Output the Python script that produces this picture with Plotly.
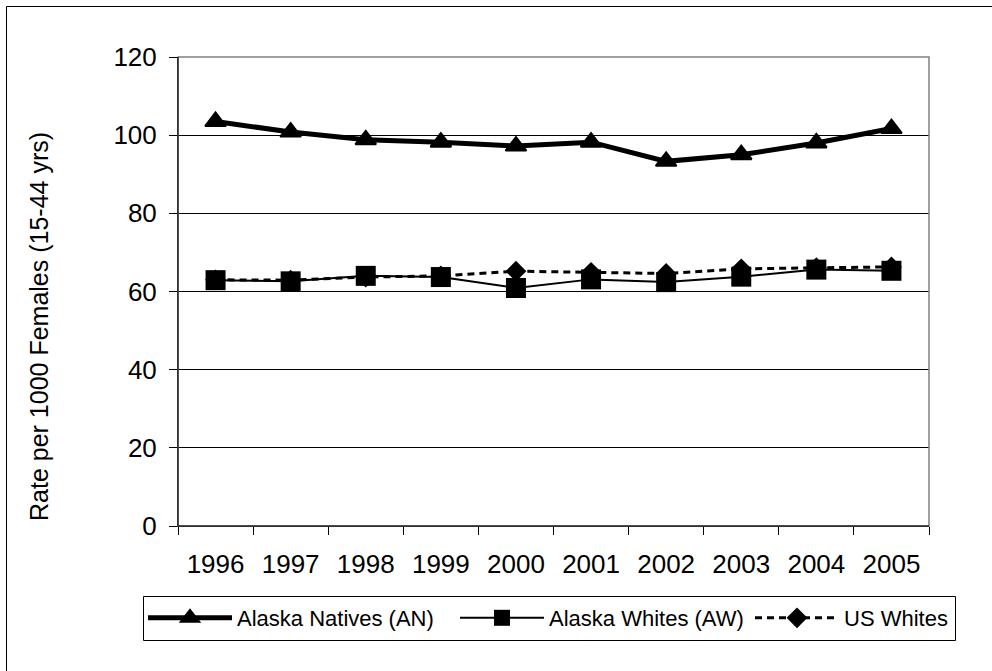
import plotly.graph_objects as go

years = ["1996", "1997", "1998", "1999", "2000", "2001", "2002", "2003", "2004", "2005"]
alaska_natives = [103.5, 100.8, 98.8, 98.2, 97.2, 98.2, 93.3, 95.0, 98.0, 101.7]
alaska_whites = [62.9, 62.6, 64.0, 63.7, 60.9, 63.1, 62.4, 63.8, 65.6, 65.3]
us_whites = [63.0, 62.9, 63.7, 64.0, 65.2, 64.9, 64.6, 65.8, 66.1, 66.3]

FONT = "Liberation Sans, Arial, sans-serif"
W, H = 992, 671
L, R, T, B = 178, 63, 57, 145
PW, PH = W - L - R, H - T - B

def px_x(p):
    return (p - L) / PW

def px_y(p):
    return (H - B - p) / PH

fig = go.Figure()
fig.add_trace(go.Scatter(
    x=years, y=us_whites, name="US Whites", mode="lines+markers", legend="legend3",
    line=dict(color="black", width=3, dash="7px,5px"),
    marker=dict(symbol="diamond", size=16, color="black"),
))
fig.add_trace(go.Scatter(
    x=years, y=alaska_whites, name="Alaska Whites (AW)", mode="lines+markers",
    legend="legend2",
    line=dict(color="black", width=2),
    marker=dict(symbol="square", size=20, color="black"),
))
fig.add_trace(go.Scatter(
    x=years, y=alaska_natives, name="Alaska Natives (AN)", mode="lines+markers",
    legend="legend",
    line=dict(color="black", width=5),
    marker=dict(symbol="triangle-up", size=18, color="black",
                line=dict(color="black", width=2)),
))

def leg(xpx):
    return dict(
        orientation="h", x=px_x(xpx), y=px_y(618), xanchor="left", yanchor="middle",
        borderwidth=0, bgcolor="rgba(0,0,0,0)",
        font=dict(size=22, family=FONT), itemwidth=84,
    )

fig.update_layout(
    width=W, height=H,
    margin=dict(l=L, r=R, t=T, b=B, pad=0),
    paper_bgcolor="white", plot_bgcolor="white",
    font=dict(family=FONT, color="black"),
    showlegend=True,
    legend=leg(143),
    legend2=leg(455),
    legend3=leg(750),
    xaxis=dict(
        type="category", range=[-0.5, 9.5],
        showgrid=False, zeroline=False,
        showline=True, linecolor="black", linewidth=1,
        ticks="outside", ticklen=8, tickcolor="black", tickson="boundaries",
        tickfont=dict(size=26, family=FONT), ticklabelstandoff=15,
    ),
    yaxis=dict(
        range=[0, 120], tickvals=[0, 20, 40, 60, 80, 100, 120],
        showgrid=True, gridcolor="black", gridwidth=1, zeroline=False,
        showline=True, linecolor="black", linewidth=1,
        ticks="outside", ticklen=8, tickcolor="black",
        tickfont=dict(size=26, family=FONT), ticklabelstandoff=7,
    ),
    shapes=[
        dict(type="rect", xref="paper", yref="paper", x0=0, x1=1, y0=0, y1=1,
             line=dict(color="#808080", width=1.5), layer="above"),
        dict(type="rect", xref="paper", yref="paper",
             x0=px_x(6.5), x1=px_x(1100), y0=px_y(6.5), y1=px_y(800),
             line=dict(color="black", width=1), layer="below"),
        # legend frame
        dict(type="rect", xref="paper", yref="paper",
             x0=px_x(143.5), x1=px_x(955.5), y0=px_y(596.5), y1=px_y(640.5),
             line=dict(color="black", width=1), layer="below"),
    ],
    annotations=[
        dict(text="Rate per 1000 Females (15-44 yrs)", xref="paper", yref="paper",
             x=px_x(39), y=px_y(327), xanchor="center", yanchor="middle",
             textangle=-90, showarrow=False, font=dict(size=25, family=FONT)),
    ],
)
# left and bottom axis lines in black over the grey frame
fig.add_shape(type="line", xref="paper", yref="paper", x0=0, x1=0, y0=0, y1=1,
              line=dict(color="black", width=1), layer="above")
fig.add_shape(type="line", xref="paper", yref="paper", x0=0, x1=1, y0=0, y1=0,
              line=dict(color="black", width=1), layer="above")

fig.write_html(
    "out.html",
    config={"displayModeBar": False},
    post_script="document.body.style.margin='0';document.body.style.overflow='hidden';",
)
